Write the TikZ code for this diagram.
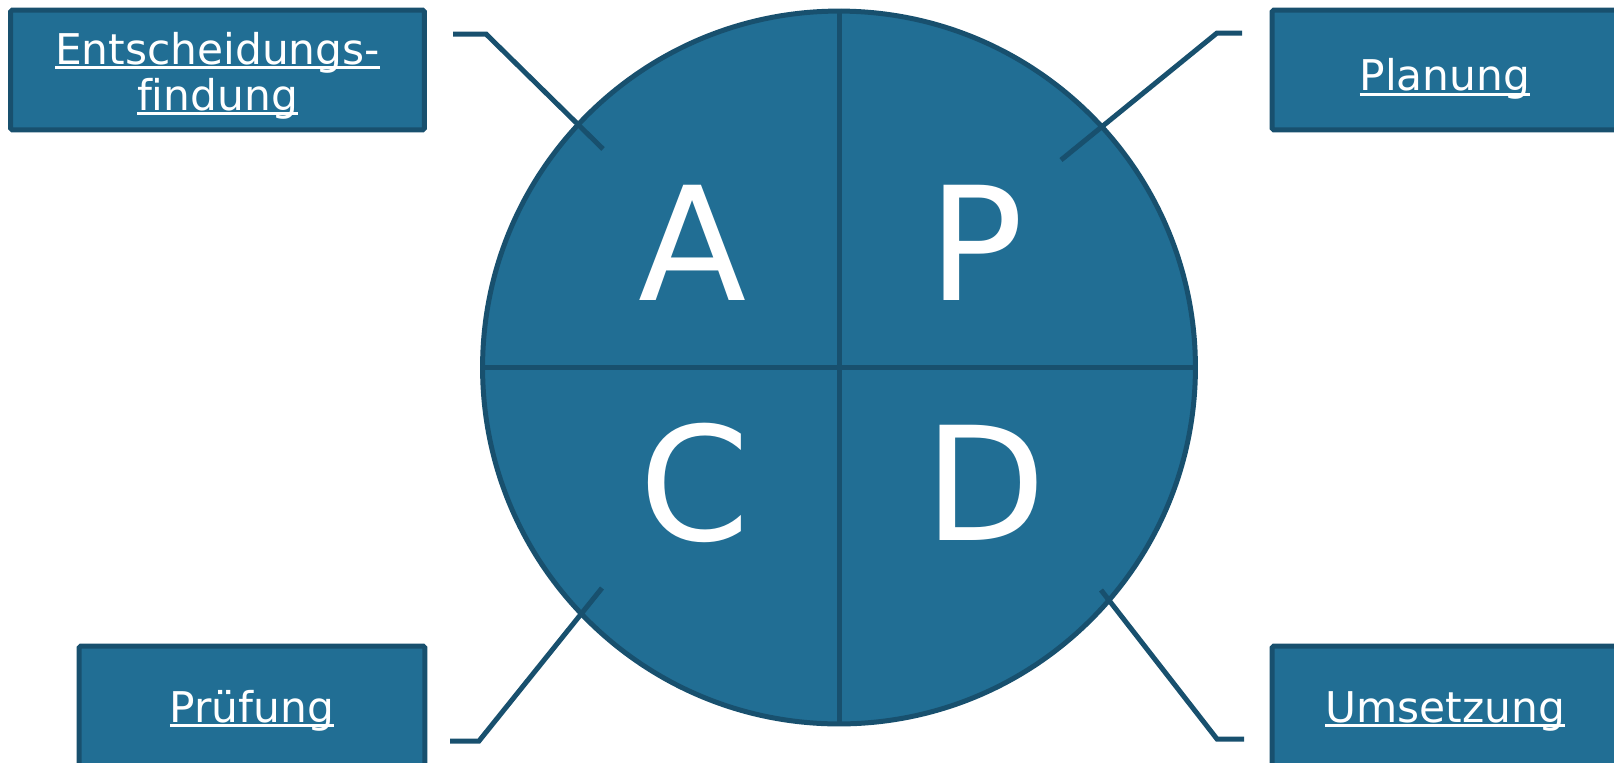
\documentclass[tikz,border=0pt]{standalone}
\usepackage{fontspec}
\setmainfont{DejaVu Sans}[Ligatures=NoCommon]
\usepackage{xcolor}
\definecolor{pdcafond}{RGB}{33,110,148}
\definecolor{pdcabord}{RGB}{24,80,110}
\newcommand{\souligne}[1]{\setbox0\hbox{#1}\rlap{\rule[-0.12em]{\wd0}{0.065em}}\box0}

\begin{document}
\begin{tikzpicture}[x=0.02cm,y=-0.02cm,
    cadre/.style={draw=pdcabord,fill=pdcafond,line width=0.1cm,rounded corners=1pt,
      text=white,font=\fontsize{24.1}{26.1}\selectfont,align=center,
      minimum height=2.4cm,inner sep=0pt},
    lettre/.style={text=white,font=\fontsize{90}{90}\selectfont,inner sep=0pt},
    liaison/.style={draw=pdcabord,line width=0.1cm}]
      \useasboundingbox (0,0) rectangle (1614,762);

      % Cercle
      \node[circle,draw=pdcabord,fill=pdcafond,line width=0.1cm,
        minimum size=14.26cm,inner sep=0pt] (cercle) at (839,367.5) {};
      \draw[liaison] (cercle.north) -- (cercle.south);
      \draw[liaison] (cercle.west) -- (cercle.east);

      % Lettres
      \node[lettre] (lA) at (693,243) {A};
      \node[lettre] (lP) at (976,243) {P};
      \node[lettre] (lC) at (695,483) {C};
      \node[lettre] (lD) at (985,483) {D};

      % Cadres
      \node[cadre,minimum width=8.28cm,text height=1.8cm,text depth=0.2cm] (entsch) at (217.5,70)
        {\souligne{Entscheidungs-}\\\souligne{findung}};
      \node[cadre,minimum width=6.92cm,text height=1.06cm,text depth=0.24cm] (plan) at (1445,70)
        {\souligne{Planung}};
      \node[cadre,minimum width=6.92cm,text height=0.88cm,text depth=0.24cm] (pruef) at (252,706)
        {\souligne{Prüfung}};
      \node[cadre,minimum width=6.92cm,text height=0.88cm,text depth=0.24cm] (umsetz) at (1445,706)
        {\souligne{Umsetzung}};

      % Liaisons
      \coordinate (k1a) at (453,34);
      \coordinate (k1b) at (486,34);
      \coordinate (k1c) at (603,149);
      \coordinate (k2a) at (1242,33);
      \coordinate (k2b) at (1217,33);
      \coordinate (k2c) at (1061,160);
      \coordinate (k3a) at (450,741);
      \coordinate (k3b) at (479,741);
      \coordinate (k3c) at (602,588);
      \coordinate (k4a) at (1244,739);
      \coordinate (k4b) at (1217,739);
      \coordinate (k4c) at (1101,590);

      \draw[liaison] (k1a) -- (k1b) -- (k1c);
      \draw[liaison] (k2a) -- (k2b) -- (k2c);
      \draw[liaison] (k3a) -- (k3b) -- (k3c);
      \draw[liaison] (k4a) -- (k4b) -- (k4c);
    \end{tikzpicture}
\end{document}
